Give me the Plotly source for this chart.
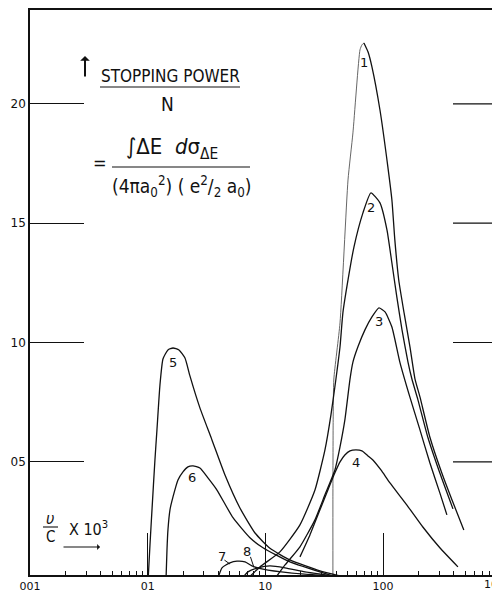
import numpy as np
import plotly.graph_objects as go

# ---------------- data (x = v/c x 10^3, y = stopping power / N) ----------------
c1_left_x = [3.75, 3.75, 3.77, 3.82, 4.31, 5.04, 5.55, 6.37, 6.62, 6.88]
c1_left_y = [0.0, 0.341, 0.676, 0.847, 1.082, 1.681, 1.878, 2.226, 2.247, 2.255]
c1_right_x = [6.88, 7.45, 8.05, 9.42, 11.0, 11.9, 12.6, 13.6, 15.1, 16.94, 18.7, 20.6, 25.0, 31.6, 38.5, 48.6]
c1_right_y = [2.255, 2.218, 2.155, 1.974, 1.735, 1.597, 1.430, 1.262, 1.124, 0.982, 0.847, 0.772, 0.604, 0.453, 0.341, 0.215]

c2_x = [0.672, 0.900, 1.331, 1.968, 2.64, 3.21, 3.61, 3.98, 4.31, 4.56, 5.04, 5.66, 6.75, 7.89,
        9.42, 10.8, 11.9, 13.1, 14.5, 16.3, 17.6, 19.8, 24.0, 30.4, 39.3]
c2_y = [0.0, 0.060, 0.123, 0.236, 0.382, 0.550, 0.697, 0.847, 0.982, 1.124, 1.262, 1.400, 1.543, 1.627,
        1.585, 1.472, 1.333, 1.191, 1.053, 0.918, 0.847, 0.760, 0.604, 0.453, 0.303]

c3_x = [1.161, 1.47, 1.968, 2.64, 3.21, 3.90, 4.31, 4.74, 5.24, 5.55, 6.12, 7.02, 8.05, 9.23,
        10.4, 11.9, 13.9, 16.9, 20.6, 25.0, 30.4, 34.9]
c3_y = [0.0, 0.068, 0.144, 0.257, 0.362, 0.466, 0.563, 0.676, 0.847, 0.918, 0.982, 1.053, 1.107, 1.145,
        1.128, 1.065, 0.918, 0.772, 0.634, 0.496, 0.370, 0.278]

c4_x = [1.968, 2.393, 2.911, 3.40, 3.90, 4.31, 4.74, 5.24, 5.89, 6.62, 7.45, 8.20, 9.60, 11.45,
        15.96, 21.8, 30.4, 43.3]
c4_y = [0.102, 0.194, 0.299, 0.382, 0.454, 0.500, 0.529, 0.546, 0.550, 0.546, 0.525, 0.508, 0.466, 0.412,
        0.319, 0.227, 0.140, 0.060]

c5_x = [0.1007, 0.1046, 0.1088, 0.1153, 0.1199, 0.1272, 0.1349, 0.1487, 0.1641, 0.1845, 0.2075, 0.2286,
        0.2779, 0.3518, 0.454, 0.608, 0.817, 1.094, 1.618, 2.911, 4.31]
c5_y = [0.0, 0.152, 0.299, 0.509, 0.634, 0.823, 0.931, 0.969, 0.977, 0.969, 0.935, 0.860,
        0.726, 0.592, 0.445, 0.307, 0.202, 0.138, 0.089, 0.043, 0.022]

c6_x = [0.1430, 0.1459, 0.1487, 0.1547, 0.1641, 0.1809, 0.1995, 0.2198, 0.2427, 0.2779, 0.3252, 0.388,
        0.531, 0.740, 0.955, 1.618, 3.75]
c6_y = [0.0, 0.131, 0.215, 0.299, 0.353, 0.424, 0.458, 0.479, 0.483, 0.474, 0.433, 0.382,
        0.266, 0.182, 0.140, 0.081, 0.022]

c7_x = [0.388, 0.428, 0.500, 0.574, 0.672, 0.769, 0.955, 1.618, 3.54]
c7_y = [0.0, 0.056, 0.077, 0.084, 0.081, 0.064, 0.051, 0.035, 0.022]

c8_x = [0.608, 0.711, 0.865, 1.094, 1.47, 2.17, 3.75]
c8_y = [0.0, 0.039, 0.056, 0.064, 0.056, 0.039, 0.022]

curve_labels = ["1", "2", "3", "4", "5", "6", "7", "8"]
label_x = [6.88, 7.89, 9.23, 5.89, 0.164, 0.237, 0.428, 0.699]
label_y = [2.171, 1.567, 1.086, 0.496, 0.918, 0.433, 0.102, 0.123]

x_tickvals = [0.01, 0.1, 1.0, 10.0]
x_ticktext = ["001", "01", "10", "100"]
y_tickvals = [0.5, 1.0, 1.5, 2.0]
y_ticktext = ["05", "10", "15", "20"]

# ---------------- figure ----------------
W, H = 492, 592
ML, MR, MT, MB = 30, 0, 10, 17
PW, PH = W - ML - MR, H - MT - MB


def px2paper(px, py):
    return (px - ML) / PW, (H - MB - py) / PH


fig = go.Figure()
line_style = dict(color="#111111", width=1.3, shape="spline", smoothing=0.5)

fig.add_trace(go.Scatter(x=c1_left_x, y=c1_left_y, mode="lines",
                         line=dict(color="#555555", width=0.9, shape="spline", smoothing=0.5)))
for xs, ys in [(c1_right_x, c1_right_y), (c2_x, c2_y), (c3_x, c3_y), (c4_x, c4_y),
               (c5_x, c5_y), (c6_x, c6_y), (c7_x, c7_y), (c8_x, c8_y)]:
    fig.add_trace(go.Scatter(x=xs, y=ys, mode="lines", line=line_style))

minor_vals = [m * 10.0 ** e for e in range(-2, 2) for m in range(2, 10)]

fig.update_xaxes(type="log", range=[-2, np.log10(10) + (492 - 383) / 117.7],
                 showgrid=False, zeroline=False, showline=True, linecolor="#111111", linewidth=1.5,
                 mirror=True, ticks="inside", ticklen=42, tickwidth=1.2, tickcolor="#111111",
                 tickvals=x_tickvals, ticktext=x_ticktext,
                 tickfont=dict(family="DejaVu Sans", size=11, color="#111111"),
                 minor=dict(ticks="inside", ticklen=4, tickwidth=1, tickcolor="#111111",
                            tickvals=minor_vals, showgrid=False),
                 automargin=False)
fig.update_yaxes(range=[0.026, 2.393], showgrid=False, zeroline=False, showline=True,
                 linecolor="#111111", linewidth=1.5, ticks="inside", ticklen=54, tickwidth=1.2,
                 tickcolor="#111111", tickvals=y_tickvals, ticktext=y_ticktext,
                 tickfont=dict(family="DejaVu Sans", size=12, color="#111111"), automargin=False)

shapes = []
# right-hand tick marks
for v in y_tickvals:
    shapes.append(dict(type="line", xref="paper", yref="y", x0=(453 - ML) / PW, x1=1.0, y0=v, y1=v,
                       line=dict(color="#111111", width=1.2)))
# fraction bars
for (xa, xb, yy) in [(100, 240, 87), (112, 250, 167), (43, 58, 527)]:
    p0 = px2paper(xa, yy)
    p1 = px2paper(xb, yy)
    shapes.append(dict(type="line", xref="paper", yref="paper", x0=p0[0], x1=p1[0], y0=p0[1], y1=p1[1],
                       line=dict(color="#111111", width=1.1)))
fig.update_layout(shapes=shapes)

FONT = "Liberation Sans Narrow, DejaVu Sans Condensed, DejaVu Sans, sans-serif"
anns = []


def txt(px, py, text, size, family=FONT, xanchor="center"):
    xp, yp = px2paper(px, py)
    anns.append(dict(xref="paper", yref="paper", x=xp, y=yp, text=text, showarrow=False,
                     xanchor=xanchor, yanchor="middle",
                     font=dict(family=family, size=size, color="#111111")))


txt(170, 76, "STOPPING POWER", 17)
txt(167, 104, "N", 19)
txt(100, 162, "=", 18)
txt(172, 148, "∫ΔE  <i>d</i>σ<sub>ΔE</sub>", 22)
txt(181, 187, "(4πa<sub>0</sub><sup>2</sup>) ( e<sup>2</sup>/<sub>2</sub> a<sub>0</sub>)", 19)
txt(50, 518, "<i>υ</i>", 16)
txt(50, 537, "C", 15)
txt(88, 528, "X 10<sup>3</sup>", 16)
# tick label at the right edge, clipped by the page edge as in the original
txt(494, 584, "100", 11, family="DejaVu Sans")

# vertical arrow next to the title
xa, ya = px2paper(85, 56)
anns.append(dict(xref="paper", yref="paper", x=xa, y=ya, ax=0, ay=22, text="", showarrow=True,
                 arrowhead=1, arrowsize=0.8, arrowwidth=2, arrowcolor="#111111"))
# horizontal arrow under v/c
xa, ya = px2paper(100, 547)
anns.append(dict(xref="paper", yref="paper", x=xa, y=ya, ax=-38, ay=0, text="", showarrow=True,
                 arrowhead=1, arrowsize=0.8, arrowwidth=1.2, arrowcolor="#111111"))

# curve numbers
for t, lx, ly in zip(curve_labels, label_x, label_y):
    anns.append(dict(x=np.log10(lx), y=ly, xref="x", yref="y", text=t, showarrow=False,
                     font=dict(family="DejaVu Sans", size=13, color="#111111")))
# pointer strokes for 7 and 8
anns.append(dict(x=np.log10(0.50), y=0.072, xref="x", yref="y", ax=-7, ay=-5, text="",
                 showarrow=True, arrowhead=0, arrowwidth=1, arrowcolor="#111111"))
anns.append(dict(x=np.log10(0.80), y=0.058, xref="x", yref="y", ax=-4, ay=-12, text="",
                 showarrow=True, arrowhead=0, arrowwidth=1, arrowcolor="#111111"))

fig.update_layout(annotations=anns, width=W, height=H,
                  margin=dict(l=ML, r=MR, t=MT, b=MB, pad=0),
                  paper_bgcolor="white", plot_bgcolor="white", showlegend=False)

fig.write_html("out.html")
